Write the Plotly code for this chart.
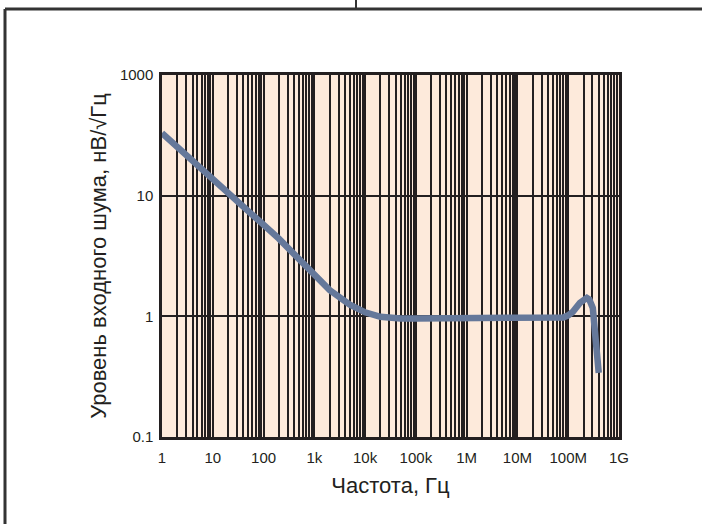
import plotly.graph_objects as go

# Data
freq_hz = [1, 10, 100, 200, 500, 1000, 2000, 5000, 10000, 20000, 30000, 50000,
           1e5, 1e6, 1e7, 6e7, 8e7, 1.0e8, 1.23e8, 1.7e8, 2.33e8, 2.6e8, 3.05e8, 3.99e8]
noise_nv = [33, 13.8, 5.74, 4.4, 2.98, 2.25, 1.65, 1.25, 1.08, 0.99, 0.97, 0.96,
            0.96, 0.96, 0.96, 0.96, 0.98, 1.02, 1.09, 1.29, 1.42, 1.38, 1.17, 0.34]

x_labels = ["1", "10", "100", "1k", "10k", "100k", "1M", "10M", "100M", "1G"]
y_tickvals = [0.1, 1, 10, 100]
y_labels = ["0.1", "1", "10", "1000"]

# vertical grid at every 1..9 multiple of each decade
x_tickvals, x_ticktext = [], []
for d in range(10):
    for m in range(1, 10):
        if d == 9 and m > 1:
            break
        x_tickvals.append(m * 10 ** d)
        x_ticktext.append(x_labels[d] if m == 1 else "")

fig = go.Figure()
fig.add_trace(go.Scatter(
    x=freq_hz, y=noise_nv, mode="lines",
    line=dict(color="#65789a", width=6.5),
    hoverinfo="skip", showlegend=False,
))

font = "Liberation Sans, Arial, Helvetica, sans-serif"

def px_x(p):
    return (p - 162) / 457

def px_y(p):
    return (437 - p) / 362

fig.update_layout(
    width=702, height=524,
    margin=dict(l=162, r=83, t=75, b=87),
    paper_bgcolor="white",
    plot_bgcolor="#fdeadb",
    font=dict(family=font, color="#231f20", size=15),
    xaxis=dict(
        type="log", range=[0, 9],
        tickmode="array", tickvals=x_tickvals, ticktext=x_ticktext,
        showgrid=True, gridcolor="#231f20", gridwidth=1.7,
        showline=True, linecolor="#231f20", linewidth=2.5, mirror=True,
        ticks="", ticklabelstandoff=5,
        tickfont=dict(size=15),
        title=dict(text="Частота, Гц", font=dict(size=22), standoff=13),
        zeroline=False,
    ),
    yaxis=dict(
        type="log", range=[-1, 2],
        tickmode="array", tickvals=y_tickvals, ticktext=y_labels,
        showgrid=True, gridcolor="#231f20", gridwidth=1.5,
        showline=True, linecolor="#231f20", linewidth=2.5, mirror=True,
        ticks="", ticklabelstandoff=3,
        tickfont=dict(size=15),
        title=dict(text="Уровень входного шума, нВ/√Гц", font=dict(size=22), standoff=8),
        zeroline=False,
    ),
    shapes=[
        dict(type="line", xref="paper", yref="paper",
             x0=px_x(5), x1=px_x(710), y0=px_y(9), y1=px_y(9),
             line=dict(color="#333333", width=3)),
        dict(type="line", xref="paper", yref="paper",
             x0=px_x(5), x1=px_x(5), y0=px_y(9), y1=px_y(530),
             line=dict(color="#333333", width=3)),
        dict(type="line", xref="paper", yref="paper",
             x0=px_x(356), x1=px_x(356), y0=px_y(0), y1=px_y(8),
             line=dict(color="#333333", width=2)),
    ],
)

fig.write_html("out.html", config={"displayModeBar": False},
               post_script="document.body.style.margin='0';")
